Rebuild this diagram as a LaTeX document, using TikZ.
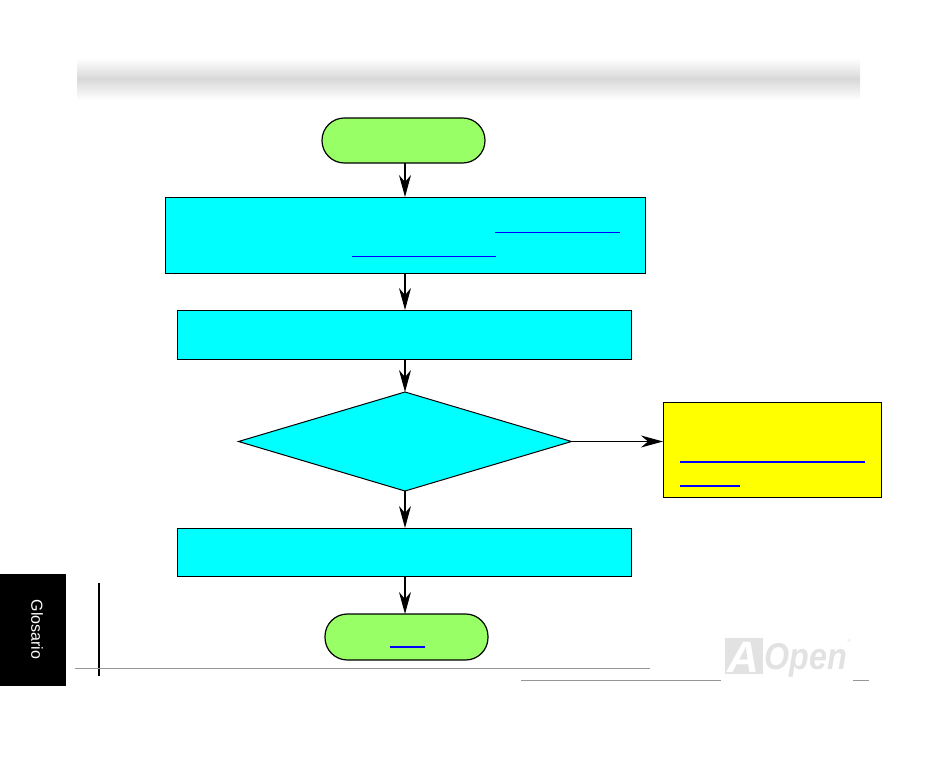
\documentclass[tikz,border=0pt]{standalone}
\usepackage{fontspec}
\setmainfont{Liberation Sans}
\usetikzlibrary{arrows.meta,shapes.geometric,positioning}
\definecolor{boxcyan}{RGB}{0,255,255}
\definecolor{termgreen}{RGB}{153,255,102}
\definecolor{noteyellow}{RGB}{255,255,0}
\definecolor{linkblue}{RGB}{0,0,255}
\definecolor{rulegray}{RGB}{150,150,150}
\definecolor{logogray}{RGB}{226,226,226}
\tikzset{
  x=1pt,y=-1pt,
  basebox/.style={draw=black,line width=1pt,inner sep=0pt,outer sep=0pt},
  procbox/.style={basebox,rectangle,fill=boxcyan},
  termbox/.style={basebox,line width=1.2pt,rectangle,rounded corners=22.4pt,fill=termgreen},
  notebox/.style={basebox,rectangle,fill=noteyellow},
  decbox/.style={basebox,diamond,fill=boxcyan,aspect=3.36},
  flow/.style={draw=black,line width=1.1pt,-{Stealth[length=22pt,width=12pt,inset=7pt]}},
  linkline/.style={draw=linkblue,line width=1.3pt},
  grayrule/.style={draw=rulegray,line width=1pt}
}
\begin{document}
\begin{tikzpicture}
\useasboundingbox (0,0) rectangle (950,757);
% header band
\shade[top color=white,bottom color=black!15] (77,58) rectangle (860,79);
\shade[top color=black!15,bottom color=white] (77,79) rectangle (860,100);
% side tab
\fill[black] (0,574) rectangle (66,686);
\node[rotate=-90,text=white,font=\fontsize{16}{17}\selectfont,inner sep=0pt] (tab) at (37,629.5) {Glosario};
% footer rules
\draw[black,line width=1.4pt] (99,583) -- (99,676);
\draw[grayrule] (75,668) -- (650,668);
\draw[grayrule] (521,680) -- (721,680);
\draw[grayrule] (853,680) -- (869,680);
% logo
\fill[logogray] (725,638) rectangle (763,674);
\node[text=white,font=\bfseries\itshape\fontsize{44}{44}\selectfont,inner sep=0pt] (logoA) at (743,657) {A};
\node[text=logogray,font=\bfseries\itshape\fontsize{34}{34}\selectfont,inner sep=0pt,anchor=west,xscale=0.95,yscale=1.1] (logoOpen) at (764,660) {Open};
\node[text=logogray,font=\fontsize{5}{5}\selectfont,inner sep=0pt] (logoR) at (849,641) {®};
% flow nodes
\node[termbox,minimum width=163pt,minimum height=45pt] (start) at (403.5,140.5) {};
\node[procbox,minimum width=480pt,minimum height=76pt] (b1) at (405,235) {};
\node[procbox,minimum width=454pt,minimum height=49pt] (b2) at (404,334.5) {};
\node[decbox,minimum width=333pt,minimum height=99pt] (dec) at (405,441.5) {};
\node[notebox,minimum width=218pt,minimum height=95pt] (note) at (772,449.5) {};
\node[procbox,minimum width=454pt,minimum height=48pt] (b3) at (404,552) {};
\node[termbox,minimum width=163pt,minimum height=46pt] (finish) at (406.5,637) {};
% connectors
\draw[flow] (start.south -| dec.north) -- (dec.north |- b1.north);
\draw[flow] (dec.north |- b1.south) -- (dec.north |- b2.north);
\draw[flow] (dec.north |- b2.south) -- (dec.north);
\draw[flow] (dec.south) -- (dec.south |- b3.north);
\draw[flow] (b3.south -| dec.south) -- (dec.south |- finish.north);
\draw[flow] (dec.east) -- (note.west |- dec.east);
% link underlines
\draw[linkline] (495,232.5) -- (620,232.5);
\draw[linkline] (352,256.5) -- (496,256.5);
\draw[linkline] (680,462) -- (865,462);
\draw[linkline] (680,486) -- (740,486);
\draw[linkline] (390,647) -- (425,647);
\end{tikzpicture}
\end{document}
